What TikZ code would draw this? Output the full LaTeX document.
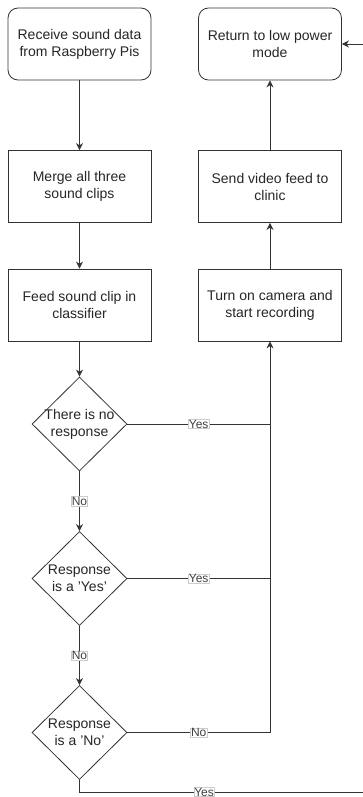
\documentclass[tikz,border=0pt]{standalone}
\usepackage{fontspec}
\setmainfont{Liberation Sans}
\usetikzlibrary{arrows.meta,shapes.geometric}
\definecolor{ln}{HTML}{333333}
\begin{document}
\begin{tikzpicture}[x=1pt,y=-1pt,
  every node/.style={text=black!85},
  proc/.style={draw=ln,line width=0.8pt,minimum width=143pt,minimum height=72pt,align=center,font=\fontsize{14}{17}\selectfont,fill=white},
  rproc/.style={proc,rounded corners=10pt},
  dec/.style={draw=ln,line width=0.8pt,diamond,minimum width=95pt,minimum height=94pt,inner sep=0pt,fill=white},
  dtxt/.style={align=center,font=\fontsize{14}{17}\selectfont,inner sep=0pt},
  conn/.style={draw=ln,line width=0.8pt,-{Stealth[length=7pt,width=7pt]}},
  plain/.style={draw=ln,line width=0.8pt},
  lbl/.style={fill=white,draw=black!20,line width=0.4pt,inner sep=0.5pt,font=\fontsize{12}{13}\selectfont,text=black!75}]
\clip (0,0) rectangle (363,797);
\fill[white] (0,0) rectangle (363,797);
\node[rproc] (recv) at (79.5,44) {Receive sound data\\from Raspberry Pis};
\node[proc] (merge) at (79.5,186.5) {Merge all three\\sound clips};
\node[proc] (feed) at (79.5,305) {Feed sound clip in\\classifier};
\node[rproc] (ret) at (270,44) {Return to low power\\mode};
\node[proc] (send) at (270,186.5) {Send video feed to\\clinic};
\node[proc] (cam) at (270,305) {Turn on camera and\\start recording};
\node[dec] (d1) at (79.5,424) {};
\node[dtxt] (t1) at (d1.center) {There is no\\response};
\node[dec] (d2) at (79.5,578.5) {};
\node[dtxt] (t2) at (d2.center) {Response\\is a 'Yes'};
\node[dec] (d3) at (79.5,732.5) {};
\node[dtxt] (t3) at (d3.center) {Response\\is a 'No'};
\coordinate (j1) at (270,424);
\coordinate (j2) at (270,578.5);
\coordinate (j3) at (270,732.5);
\coordinate (far) at (372,792);
\draw[conn] (recv) -- (merge);
\draw[conn] (merge) -- (feed);
\draw[conn] (feed) -- (d1);
\draw[conn] (d1) -- node[lbl]{No} (d2);
\draw[conn] (d2) -- node[lbl]{No} (d3);
\draw[plain] (d1.east) -- node[lbl,pos=0.5]{Yes} (j1);
\draw[plain] (d2.east) -- node[lbl,pos=0.5]{Yes} (j2);
\draw[conn] (d3.east) -- node[lbl,pos=0.5]{No} (j3) -- (cam.south);
\draw[conn] (cam) -- (send);
\draw[conn] (send) -- (ret);
\draw[conn] (d3.south) |- node[lbl,pos=0.713]{Yes} (far) |- (ret.east);
\end{tikzpicture}
\end{document}
